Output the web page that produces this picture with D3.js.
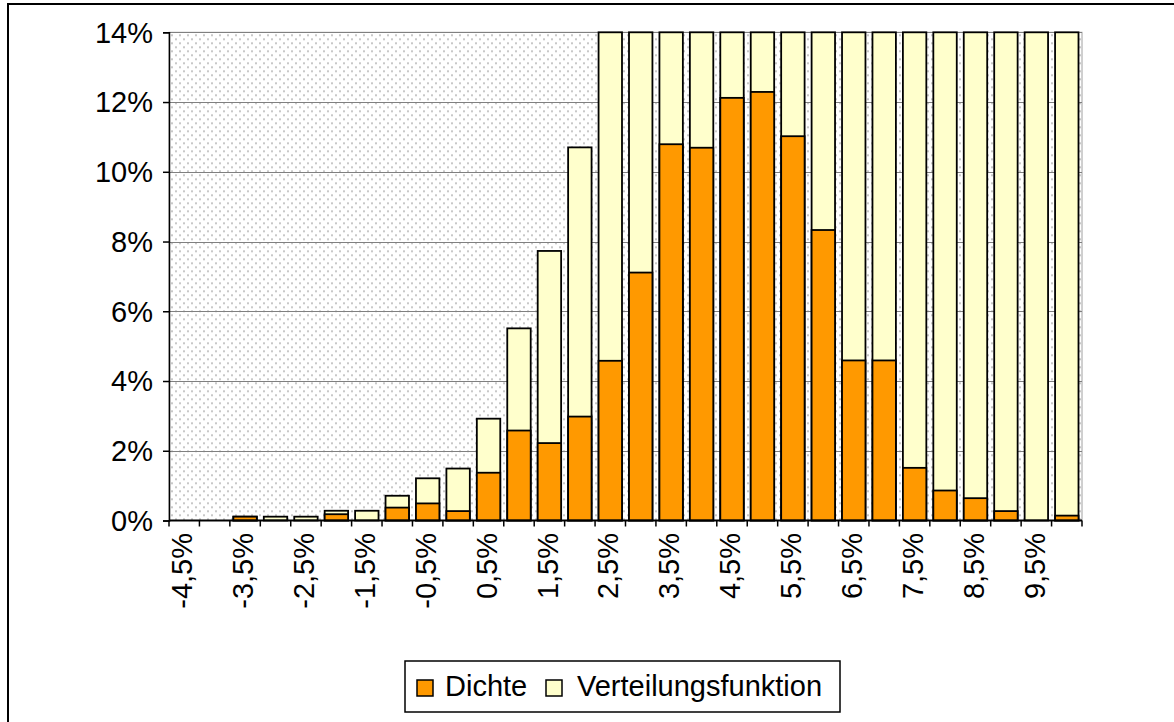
<!DOCTYPE html>
<html>
<head>
<meta charset="utf-8">
<script src="https://cdn.jsdelivr.net/npm/d3@7"></script>
<style>
  html, body { margin: 0; padding: 0; background: #fff; }
  svg { display: block; }
  text { font-family: "Liberation Sans", Arial, sans-serif; fill: #000; }
</style>
</head>
<body>
<svg id="chart" width="1174" height="722"></svg>
<script>
// ---- data ----
const categories = ["-4,5%","-4,0%","-3,5%","-3,0%","-2,5%","-2,0%","-1,5%","-1,0%","-0,5%","0,0%",
                    "0,5%","1,0%","1,5%","2,0%","2,5%","3,0%","3,5%","4,0%","4,5%","5,0%",
                    "5,5%","6,0%","6,5%","7,0%","7,5%","8,0%","8,5%","9,0%","9,5%","10,0%"];
const dichte = [0.00, 0.00, 0.11, 0.00, 0.00, 0.18, 0.00, 0.37, 0.49, 0.27,
                1.37, 2.58, 2.22, 2.98, 4.58, 7.11, 10.79, 10.69, 12.12, 12.29,
                11.02, 8.33, 4.59, 4.59, 1.51, 0.86, 0.64, 0.27, 0.00, 0.14];
const verteilung = [0.00, 0.00, 0.11, 0.11, 0.11, 0.28, 0.28, 0.71, 1.21, 1.49,
                    2.92, 5.51, 7.73, 10.70, 15.3, 22.4, 33.2, 43.9, 56.0, 68.3,
                    79.3, 87.6, 92.2, 96.8, 98.3, 99.15, 99.8, 99.9, 99.9, 100.0];
const yTicks = [0, 2, 4, 6, 8, 10, 12, 14];
const seriesNames = ["Dichte", "Verteilungsfunktion"];
const seriesColors = ["#FF9900", "#FFFFCC"];

// ---- layout ----
const svg = d3.select("#chart");
const plot = { left: 169, right: 1082, top: 32.3, bottom: 520.5 };
const FONT = 29;

const x = d3.scaleBand().domain(categories)
  .range([plot.left, plot.right]).paddingInner(0.23).paddingOuter(0.115);
const y = d3.scaleLinear().domain([0, 14]).range([plot.bottom, plot.top]).clamp(true);

// pattern
const defs = svg.append("defs");
const pat = defs.append("pattern").attr("id", "dots").attr("patternUnits", "userSpaceOnUse")
  .attr("width", 8).attr("height", 8).attr("x", plot.left).attr("y", plot.top);
pat.append("rect").attr("width", 8).attr("height", 8).attr("fill", "#fff");
pat.append("rect").attr("x", 2).attr("y", 2).attr("width", 2).attr("height", 2).attr("fill", "#c8c8c8");
pat.append("rect").attr("x", 6).attr("y", 6).attr("width", 2).attr("height", 2).attr("fill", "#c8c8c8");

// outer frame
svg.append("rect").attr("x", 8).attr("y", 4).attr("width", 1300).attr("height", 900)
  .attr("fill", "#fff").attr("stroke", "#000").attr("stroke-width", 2);

// plot background
svg.append("rect").attr("x", plot.left).attr("y", plot.top)
  .attr("width", plot.right - plot.left).attr("height", plot.bottom - plot.top)
  .attr("fill", "url(#dots)").attr("stroke", "#a0a0a0").attr("stroke-width", 1);

// gridlines
svg.append("g").selectAll("line").data(yTicks.filter(d => d > 0)).join("line")
  .attr("x1", plot.left).attr("x2", plot.right)
  .attr("y1", d => Math.round(y(d)) + 0.5).attr("y2", d => Math.round(y(d)) + 0.5)
  .attr("stroke", "#808080").attr("stroke-width", 1);

// bars: cumulative (behind), density (front)
const barG = svg.append("g");
barG.selectAll("rect.v").data(verteilung).join("rect").attr("class", "v")
  .attr("x", (d, i) => x(categories[i])).attr("width", x.bandwidth())
  .attr("y", d => y(d)).attr("height", d => y(0) - y(d))
  .attr("fill", seriesColors[1]).attr("stroke", "#000").attr("stroke-width", 1.8);
barG.selectAll("rect.d").data(dichte).join("rect").attr("class", "d")
  .attr("x", (d, i) => x(categories[i])).attr("width", x.bandwidth())
  .attr("y", d => y(d)).attr("height", d => y(0) - y(d))
  .attr("fill", seriesColors[0]).attr("stroke", "#000").attr("stroke-width", 1.8);

// y axis
const yAxis = d3.axisLeft(y).tickValues(yTicks).tickFormat(d => d + "%").tickSize(6).tickPadding(10);
const gy = svg.append("g").attr("transform", `translate(${plot.left},0)`).call(yAxis);
gy.select(".domain").attr("stroke", "#000").attr("stroke-width", 1.5);
gy.selectAll(".tick line").attr("stroke", "#000").attr("stroke-width", 1.5);
gy.selectAll(".tick text").attr("font-size", FONT).attr("font-family", "Liberation Sans, Arial, sans-serif")
  .attr("dy", "0.34em");

// x axis line and boundary ticks
const step = x.step();
const bounds = d3.range(categories.length + 1).map(i => x(categories[0]) - x.paddingOuter() * step + i * step);
svg.append("line").attr("x1", plot.left).attr("x2", plot.right)
  .attr("y1", plot.bottom).attr("y2", plot.bottom).attr("stroke", "#000").attr("stroke-width", 1.8);
svg.append("g").selectAll("line").data(bounds).join("line")
  .attr("x1", d => d).attr("x2", d => d).attr("y1", plot.bottom).attr("y2", plot.bottom + 6)
  .attr("stroke", "#000").attr("stroke-width", 1.5);

// x labels: every other category
svg.append("g").selectAll("text").data(categories.filter((c, i) => i % 2 === 0)).join("text")
  .attr("transform", d => `translate(${x(d) + x.bandwidth() / 2 - 2},533) rotate(-90)`)
  .attr("text-anchor", "end").attr("dy", "0.35em").attr("font-size", FONT)
  .text(d => d);

// legend
const lg = svg.append("g");
lg.append("rect").attr("x", 405).attr("y", 661).attr("width", 435).attr("height", 51)
  .attr("fill", "#fff").attr("stroke", "#000").attr("stroke-width", 1.5);
const legendItems = [
  { name: seriesNames[0], color: seriesColors[0], sx: 417, tx: 445 },
  { name: seriesNames[1], color: seriesColors[1], sx: 546, tx: 577 }
];
legendItems.forEach(it => {
  lg.append("rect").attr("x", it.sx).attr("y", 680).attr("width", 16).attr("height", 16)
    .attr("fill", it.color).attr("stroke", "#000").attr("stroke-width", 1.5);
  lg.append("text").attr("x", it.tx).attr("y", 696).attr("font-size", FONT).text(it.name);
});
</script>
</body>
</html>
